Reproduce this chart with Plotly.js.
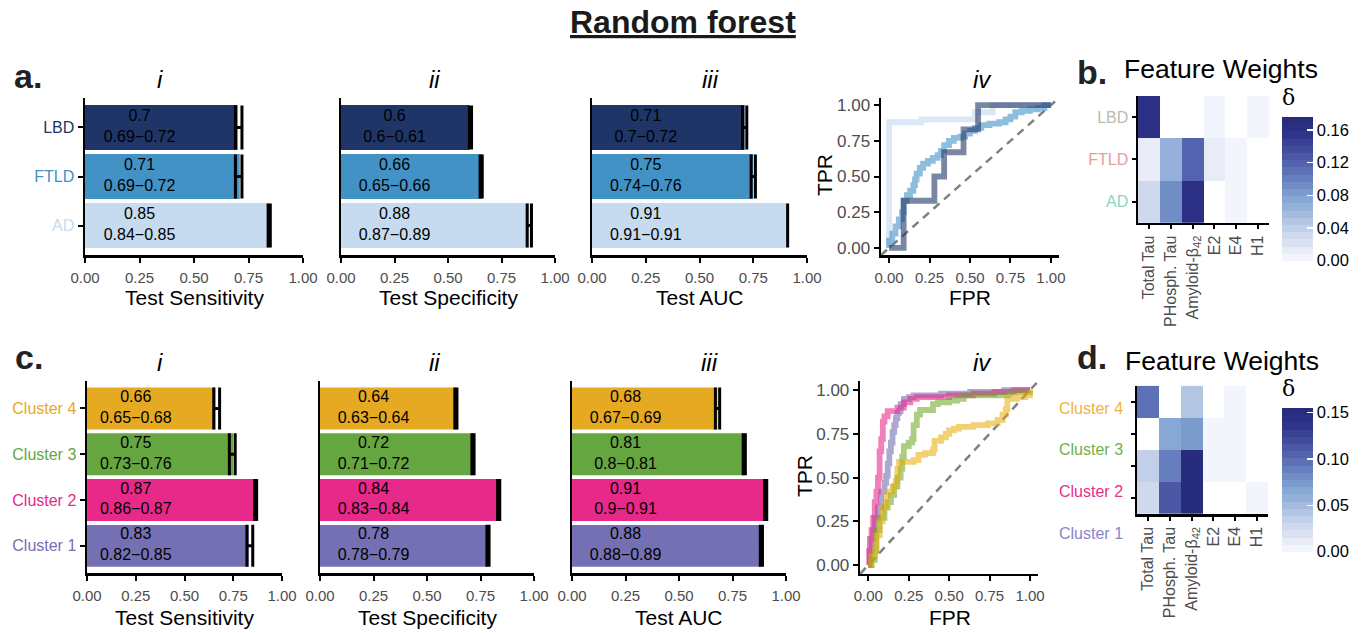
<!DOCTYPE html>
<html><head><meta charset="utf-8">
<script src="https://cdn.plot.ly/plotly-3.0.1.min.js"></script>
<style>html,body{margin:0;padding:0;background:#fff}#chart{width:1369px;height:633px}</style>
</head><body><div id="chart"></div>
<script>
// ---------------- DATA ----------------
// Panel a (bottom -> top)
const groupsA = ['AD', 'FTLD', 'LBD'];
const colorsA = ['#c6dbef', '#4292c6', '#1f3567'];
const heatLabelColorsB = ['#8fd3c4', '#e59c9c', '#bdbcaa'];
const sensA = [0.85, 0.71, 0.70], sensLoA = [0.84, 0.69, 0.69], sensHiA = [0.85, 0.72, 0.72];
const specA = [0.88, 0.66, 0.60], specLoA = [0.87, 0.65, 0.60], specHiA = [0.89, 0.66, 0.61];
const aucA  = [0.91, 0.75, 0.71], aucLoA  = [0.91, 0.74, 0.70], aucHiA  = [0.91, 0.76, 0.72];

// Panel c (bottom -> top)
const groupsC = ['Cluster 1', 'Cluster 2', 'Cluster 3', 'Cluster 4'];
const colorsC = ['#7570b3', '#e7298a', '#66a641', '#e6a922'];
const labelColorsD = ['#8a86c8', '#e8308a', '#72b04a', '#f0b33c'];
const sensC = [0.83, 0.87, 0.75, 0.66], sensLoC = [0.82, 0.86, 0.73, 0.65], sensHiC = [0.85, 0.87, 0.76, 0.68];
const specC = [0.78, 0.84, 0.72, 0.64], specLoC = [0.78, 0.83, 0.71, 0.63], specHiC = [0.79, 0.84, 0.72, 0.64];
const aucC  = [0.88, 0.91, 0.81, 0.68], aucLoC  = [0.88, 0.90, 0.80, 0.67], aucHiC  = [0.89, 0.91, 0.81, 0.69];

// ROC curves (panel a iv)
const rocAD_fpr   = [0, 0, 0.20, 0.53, 0.64, 1];
const rocAD_tpr   = [0, 0.88, 0.90, 0.95, 1.00, 1];
const rocFTLD_fpr = [0, 0.00, 0.02, 0.04, 0.06, 0.08, 0.09, 0.11, 0.13, 0.15, 0.16, 0.17, 0.19, 0.21, 0.24, 0.27, 0.30, 0.32, 0.34, 0.37, 0.40, 0.44, 0.47, 0.50, 0.53, 0.57, 0.62, 0.68, 0.72, 0.75, 0.78, 0.82, 0.87, 0.92, 0.96, 1];
const rocFTLD_tpr = [0, 0.05, 0.10, 0.15, 0.20, 0.25, 0.33, 0.37, 0.40, 0.44, 0.48, 0.52, 0.56, 0.59, 0.61, 0.63, 0.65, 0.68, 0.72, 0.75, 0.77, 0.78, 0.80, 0.82, 0.84, 0.86, 0.87, 0.88, 0.90, 0.92, 0.95, 0.96, 0.97, 0.98, 1.00, 1];
const rocLBD_fpr  = [0, 0.09, 0.28, 0.34, 0.46, 0.55, 1];
const rocLBD_tpr  = [0, 0.33, 0.50, 0.67, 0.83, 1.00, 1];

// ROC curves (panel c iv)
const rocC1_fpr = [0, 0.01, 0.02, 0.03, 0.04, 0.06, 0.08, 0.10, 0.11, 0.12, 0.13, 0.14, 0.15, 0.16, 0.17, 0.18, 0.19, 0.20, 0.22, 0.25, 0.28, 0.45, 0.63, 0.84, 1];
const rocC1_tpr = [0, 0.08, 0.15, 0.20, 0.27, 0.33, 0.42, 0.47, 0.51, 0.58, 0.65, 0.70, 0.76, 0.80, 0.84, 0.87, 0.88, 0.92, 0.95, 0.96, 0.97, 0.98, 0.99, 1.00, 1];
const rocC2_fpr = [0, 0.005, 0.01, 0.02, 0.03, 0.04, 0.05, 0.06, 0.07, 0.08, 0.09, 0.10, 0.12, 0.18, 0.22, 0.26, 0.30, 0.50, 0.65, 0.78, 0.90, 1];
const rocC2_tpr = [0, 0.08, 0.15, 0.20, 0.27, 0.36, 0.42, 0.50, 0.65, 0.72, 0.82, 0.85, 0.88, 0.90, 0.93, 0.95, 0.96, 0.97, 0.98, 0.99, 1.00, 1];
const rocC3_fpr = [0, 0.02, 0.04, 0.05, 0.07, 0.10, 0.12, 0.14, 0.16, 0.18, 0.20, 0.21, 0.22, 0.25, 0.27, 0.28, 0.30, 0.32, 0.40, 0.43, 0.50, 0.55, 0.59, 0.86, 0.88, 1];
const rocC3_tpr = [0, 0.03, 0.08, 0.20, 0.27, 0.33, 0.36, 0.40, 0.45, 0.50, 0.55, 0.62, 0.68, 0.70, 0.72, 0.80, 0.86, 0.886, 0.92, 0.93, 0.94, 0.95, 0.97, 0.98, 0.99, 1];
const rocC4_fpr = [0, 0.02, 0.04, 0.05, 0.07, 0.09, 0.11, 0.13, 0.15, 0.17, 0.18, 0.19, 0.28, 0.31, 0.35, 0.40, 0.41, 0.45, 0.48, 0.50, 0.53, 0.56, 0.65, 0.74, 0.80, 0.83, 0.85, 0.86, 0.92, 0.97, 1];
const rocC4_tpr = [0, 0.05, 0.09, 0.17, 0.25, 0.33, 0.40, 0.42, 0.45, 0.48, 0.55, 0.59, 0.60, 0.63, 0.64, 0.66, 0.71, 0.73, 0.75, 0.77, 0.78, 0.79, 0.80, 0.81, 0.83, 0.86, 0.89, 0.95, 0.96, 0.97, 1];

// Feature weights
const features = ['Total Tau', 'PHosph. Tau', 'Amyloid-β<sub>42</sub>', 'E2', 'E4', 'H1'];
// panel b rows (bottom -> top: AD, FTLD, LBD); null = no tile
const wB_AD   = [0.030, 0.090, 0.165, null, 0.004, null];
const wB_FTLD = [0.013, 0.066, 0.122, 0.010, 0.005, null];
const wB_LBD  = [0.165, null, null, 0.003, null, 0.003];
const zmaxB = 0.176;
const ticksB = [0, 0.04, 0.08, 0.12, 0.16];
// panel d rows (bottom -> top)
const wD_C1 = [0.030, 0.110, 0.155, null, null, 0.003];
const wD_C2 = [0.036, 0.086, 0.150, 0.007, 0.003, null];
const wD_C3 = [null, 0.068, 0.072, 0.003, 0.006, null];
const wD_C4 = [0.100, null, 0.040, null, 0.006, null];
const zmaxD = 0.155;
const ticksD = [0, 0.05, 0.10, 0.15];

// ---------------- LAYOUT HELPERS ----------------
const W = 1369, H = 633;
const px = p => p / W, py = p => 1 - p / H;
const xd = (a, b) => [px(a), px(b)];
const yd = (t, b) => [py(b), py(t)];
const FONT = 'Liberation Sans, Arial, Helvetica, sans-serif';
const fmt = v => String(+v.toFixed(2));

const layout = {
  width: W, height: H, margin: {l: 0, r: 0, t: 0, b: 0},
  paper_bgcolor: '#fff', plot_bgcolor: 'rgba(0,0,0,0)',
  showlegend: false, bargap: 0.085,
  font: {family: FONT, color: '#000'},
  annotations: [], shapes: []
};
const traces = [];
const ax = n => n === 1 ? '' : String(n);

function baseAxis() {
  return {showline: true, linecolor: '#000', linewidth: 2.5, showgrid: false, zeroline: false,
          ticks: 'outside', ticklen: 5, tickwidth: 2, tickcolor: '#000', fixedrange: true};
}

function barPanel(n, xdom, ydom, cats, colors, vals, lo, hi, showLabels, capW) {
  layout['xaxis' + ax(n)] = Object.assign(baseAxis(), {
    domain: xdom, anchor: 'y' + ax(n), range: [0, 1],
    tickvals: [0, 0.25, 0.5, 0.75, 1], tickformat: '.2f',
    tickfont: {size: 15, color: '#4d4d4d'}, ticklabelstandoff: 2
  });
  layout['yaxis' + ax(n)] = Object.assign(baseAxis(), {
    domain: ydom, anchor: 'x' + ax(n), type: 'category',
    categoryorder: 'array', categoryarray: cats, range: [-0.6, cats.length - 0.4],
    ticks: showLabels ? 'outside' : '', showticklabels: showLabels,
    tickvals: cats, ticktext: cats.map((c, i) => `<span style="color:${colors[i]}">${c}</span>`),
    tickfont: {size: 16}
  });
  traces.push({
    type: 'bar', orientation: 'h', x: vals, y: cats,
    marker: {color: colors, line: {width: 0}},
    error_x: {type: 'data', symmetric: false,
              array: hi.map((h, i) => h - vals[i]), arrayminus: lo.map((l, i) => vals[i] - l),
              color: '#000', thickness: 3, width: capW},
    xaxis: 'x' + ax(n), yaxis: 'y' + ax(n), hoverinfo: 'skip'
  });
  traces.push({
    type: 'scatter', mode: 'text', x: cats.map(() => 0.25), y: cats,
    text: vals.map((v, i) => `${fmt(v)}<br>${fmt(lo[i])}\u2212${fmt(hi[i])}`),
    textposition: 'middle center', textfont: {size: 16, color: '#000', family: FONT},
    xaxis: 'x' + ax(n), yaxis: 'y' + ax(n), hoverinfo: 'skip'
  });
}

function rocPanel(n, xdom, ydom, curves) {
  const common = {range: [-0.05, 1.05], tickvals: [0, 0.25, 0.5, 0.75, 1], tickformat: '.2f'};
  layout['xaxis' + ax(n)] = Object.assign(baseAxis(), common, {
    domain: xdom, anchor: 'y' + ax(n), tickfont: {size: 15, color: '#4d4d4d'}, ticklabelstandoff: 2});
  layout['yaxis' + ax(n)] = Object.assign(baseAxis(), common, {
    domain: ydom, anchor: 'x' + ax(n), tickfont: {size: 17, color: '#4d4d4d'}});
  layout.shapes.push({type: 'line', xref: 'x' + ax(n) + ' domain', yref: 'y' + ax(n) + ' domain',
    x0: 0, y0: 0, x1: 1, y1: 1, line: {color: '#808080', width: 2.5, dash: '8px,6px'}, layer: 'below'});
  curves.forEach(c => traces.push({
    type: 'scatter', mode: 'lines', x: c.x, y: c.y,
    line: {shape: 'hv', color: c.color, width: 5.8},
    xaxis: 'x' + ax(n), yaxis: 'y' + ax(n), hoverinfo: 'skip'
  }));
}

function stepScale(stops, nb) {
  const hex = h => [1, 3, 5].map(i => parseInt(h.substr(i, 2), 16));
  const at = t => {
    let k = 0; while (k < stops.length - 2 && t > stops[k + 1][0]) k++;
    const [t0, c0] = stops[k], [t1, c1] = stops[k + 1];
    const f = (t - t0) / (t1 - t0), a = hex(c0), b = hex(c1);
    return 'rgb(' + a.map((v, i) => Math.round(v + (b[i] - v) * f)).join(',') + ')';
  };
  const out = [];
  for (let i = 0; i < nb; i++) {
    const c = at((i + 0.5) / nb);
    out.push([i / nb, c]); out.push([(i + 1) / nb, c]);
  }
  return out;
}
const heatScale = stepScale([[0, '#f9fafe'], [0.2, '#c8d4ea'], [0.45, '#80a2d1'], [0.68, '#5262ae'], [0.88, '#2f348b'], [1, '#252a78']], 20);

function heatPanel(n, xdom, ydom, rows, z, zmax, ticks, cbTop, cbBot, rowColors, showRowLabels) {
  layout['xaxis' + ax(n)] = Object.assign(baseAxis(), {
    domain: xdom, anchor: 'y' + ax(n), type: 'category', tickangle: -90, ticklen: 4,
    tickfont: {size: 16, color: '#4d4d4d'}});
  layout['yaxis' + ax(n)] = Object.assign(baseAxis(), {
    domain: ydom, anchor: 'x' + ax(n), type: 'category', ticklen: 4,
    categoryorder: 'array', categoryarray: rows,
    showticklabels: showRowLabels,
    tickvals: rows, ticktext: rows.map((r, i) => `<span style="color:${rowColors[i]}">${r}</span>`),
    tickfont: {size: 16}});
  traces.push({
    type: 'heatmap', x: features, y: rows, z: z, zmin: 0, zmax: zmax,
    colorscale: heatScale, xgap: 0, ygap: 0, hoverongaps: false,
    xaxis: 'x' + ax(n), yaxis: 'y' + ax(n), hoverinfo: 'skip',
    colorbar: {x: px(1282), xanchor: 'left', xpad: 0, ypad: 0,
      y: py((cbTop + cbBot) / 2), yanchor: 'middle',
      len: cbBot - cbTop, lenmode: 'pixels', thickness: 31, thicknessmode: 'pixels',
      outlinewidth: 0, tickvals: ticks, tickformat: '.2f',
      ticks: 'inside', ticklen: 6, tickwidth: 1.5, tickcolor: '#fff',
      tickfont: {size: 16.5, color: '#000', family: FONT}}
  });
}

// ---------------- BUILD ----------------
const topY = yd(98, 255), botY = yd(381, 573.3);
barPanel(1, xd(85, 303), topY, groupsA, colorsA, sensA, sensLoA, sensHiA, true, 22);
barPanel(2, xd(341, 555), topY, groupsA, colorsA, specA, specLoA, specHiA, false, 22);
barPanel(3, xd(592, 807), topY, groupsA, colorsA, aucA, aucLoA, aucHiA, false, 22);
rocPanel(4, xd(881, 1059), yd(98, 255), [
  {x: rocAD_fpr, y: rocAD_tpr, color: 'rgba(198,219,239,0.65)'},
  {x: rocFTLD_fpr, y: rocFTLD_tpr, color: 'rgba(66,146,198,0.6)'},
  {x: rocLBD_fpr, y: rocLBD_tpr, color: 'rgba(31,53,103,0.6)'}
]);
heatPanel(5, xd(1138, 1269), yd(96, 222.7), groupsA, [wB_AD, wB_FTLD, wB_LBD], zmaxB, ticksB, 116.7, 260.7, heatLabelColorsB, true);

barPanel(6, xd(87, 282), botY, groupsC, colorsC, sensC, sensLoC, sensHiC, true, 21);
barPanel(7, xd(320, 534), botY, groupsC, colorsC, specC, specLoC, specHiC, false, 21);
barPanel(8, xd(572, 786), botY, groupsC, colorsC, aucC, aucLoC, aucHiC, false, 21);
rocPanel(9, xd(860.2, 1038.1), yd(381.3, 573.8), [
  {x: rocC1_fpr, y: rocC1_tpr, color: 'rgba(117,112,179,0.6)'},
  {x: rocC2_fpr, y: rocC2_tpr, color: 'rgba(231,41,138,0.6)'},
  {x: rocC3_fpr, y: rocC3_tpr, color: 'rgba(102,166,30,0.55)'},
  {x: rocC4_fpr, y: rocC4_tpr, color: 'rgba(230,171,2,0.55)'}
]);
heatPanel(10, xd(1137, 1268), yd(385.7, 514), groupsC, [wD_C1, wD_C2, wD_C3, wD_C4], zmaxD, ticksD, 407.7, 551.7, labelColorsD, false);

// ---------------- TEXT ----------------
function ann(text, x, y, size, opts) {
  layout.annotations.push(Object.assign({
    text: text, xref: 'paper', yref: 'paper', x: px(x), y: py(y),
    xanchor: 'center', yanchor: 'middle', showarrow: false,
    font: {size: size, color: '#000', family: FONT}
  }, opts || {}));
}
ann('<b><u>Random forest</u></b>', 683, 22, 32, {font: {size: 32, color: '#1a1a1a', family: FONT}});
ann('<b>a.</b>', 28, 76, 34, {font: {size: 34, color: '#222', family: FONT}});
ann('<b>b.</b>', 1092, 72, 34, {font: {size: 34, color: '#222', family: FONT}});
ann('<b>c.</b>', 29, 357, 34, {font: {size: 34, color: '#222', family: FONT}});
ann('<b>d.</b>', 1092, 357, 34, {font: {size: 34, color: '#222', family: FONT}});
[['i', 160, 79], ['ii', 434, 79], ['iii', 710, 79], ['iv', 982, 79],
 ['i', 160, 362], ['ii', 434, 362], ['iii', 709, 362], ['iv', 982, 362]]
  .forEach(t => ann('<i>' + t[0] + '</i>', t[1], t[2], 24));
[['Test Sensitivity', 194, 297], ['Test Specificity', 448, 297], ['Test AUC', 700, 297], ['FPR', 970, 297],
 ['Test Sensitivity', 184, 617], ['Test Specificity', 427, 617], ['Test AUC', 679, 617], ['FPR', 950, 617]]
  .forEach(t => ann(t[0], t[1], t[2], 21));
ann('TPR', 824, 175, 21, {textangle: -90});
ann('TPR', 804, 476, 21, {textangle: -90});
ann('Feature Weights', 1221, 69, 26.5);
ann('Feature Weights', 1222, 361, 26.5);
ann('δ', 1288, 97, 22, {font: {size: 22, color: '#000', family: 'DejaVu Serif, serif'}});
ann('δ', 1288, 388, 22, {font: {size: 22, color: '#000', family: 'DejaVu Serif, serif'}});
// panel d row labels (as placed in the original)
const dLabelY = [533, 491.7, 449, 408];
groupsC.forEach((g, i) => ann(g, 1125, dLabelY[i], 16, {xanchor: 'right', font: {size: 16, color: labelColorsD[i], family: FONT}}));

Plotly.newPlot('chart', traces, layout, {staticPlot: true, displayModeBar: false});
</script>
</body></html>
